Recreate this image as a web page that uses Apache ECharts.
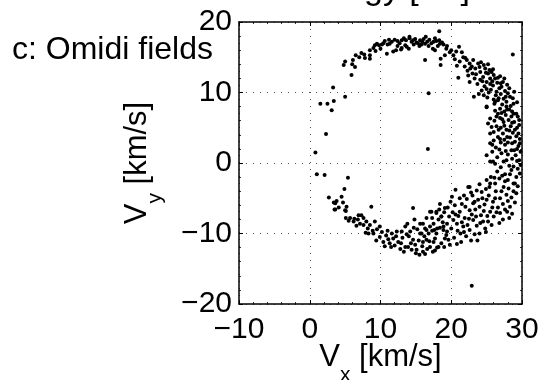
<!DOCTYPE html>
<html>
<head>
<meta charset="utf-8">
<script src="https://cdn.jsdelivr.net/npm/echarts@6/dist/echarts.min.js"></script>
<style>html,body{margin:0;padding:0;background:#fff}#c{width:543px;height:380px}</style>
</head>
<body>
<div id="c"></div>
<script>
// axis ranges and tick step
const xRange = [-10, 30];
const yRange = [-20, 20];
const tickStep = 10;

// sparse / isolated points
const scatteredPts = [[1.5,8.4],[2.5,8.4],[3.4,8.8],[3.1,7.5],[3.3,10.7],[5.0,9.4],[2.3,4.1],[0.8,1.5],[1.0,-1.6],[2.1,-1.7],[5.4,-2.1],[4.9,-3.7],[16.7,2.0],[16.8,9.9],[18.3,18.7],[28.7,15.4],[22.9,-17.4],[14.6,-6.4],[8.7,-6.2],[21.0,12.1]];

// upper arc
const topArc = [[4.8,13.9],[5.0,14.4],[5.9,12.5],[6.1,14.6],[6.4,13.6],[6.5,15.3],[7.0,15.0],[7.7,15.4],[7.8,14.9],[8.5,15.3],[8.5,16.0],[8.5,14.8],[9.0,16.3],[9.2,16.7],[9.5,16.9],[9.8,16.7],[10.2,16.8],[10.6,17.3],[11.0,16.8],[10.9,15.5],[11.3,16.9],[12.0,17.5],[12.2,16.0],[12.4,17.3],[13.0,17.4],[13.0,16.3],[13.6,17.4],[13.7,16.5],[14.1,17.7],[13.5,16.7],[14.1,17.9],[14.6,17.4],[15.1,17.1],[15.6,17.4],[16.3,16.9],[16.3,14.6],[16.9,17.5],[17.5,17.2],[17.7,16.0],[18.4,16.9],[18.9,16.8],[18.5,14.8],[18.5,13.9],[19.1,15.3],[19.8,15.7],[20.3,15.3],[20.5,14.7],[21.1,16.5],[21.5,15.7],[21.7,15.0],
[10.4,17.0],[11.6,17.2],[12.7,17.0],[14.4,17.2],[14.9,17.6],[15.3,17.0],[15.9,17.2],[16.1,17.6],[16.6,17.2],[17.2,17.0],[17.9,17.3],[18.1,16.6],[12.9,16.1],[11.8,15.8],[14.0,16.2],[15.5,16.6],[19.3,16.2],[20.0,16.0],[9.3,15.9],[7.3,15.6],[6.0,14.0],[10.0,16.2],[16.8,16.6],[17.4,16.2],[18.7,17.1],
[11.2,17.5],[13.3,17.7],[14.7,16.8],[15.8,16.8],[16.4,17.9],[17.7,17.7],[18.3,17.4],[19.4,16.6],[20.7,15.8],[12.4,16.6]];

// upper right shoulder
const rightUpper = [[22.2,14.6],[22.6,14.1],[23.1,14.6],[22.4,12.4],[22.6,11.5],[23.4,13.4],[23.8,14.1],[24.1,12.9],[24.3,10.3],[23.2,9.4],[24.5,12.2],[24.8,13.4],[25.0,11.5],[25.2,12.7],[25.7,12.9],[25.9,11.0],[26.2,12.0],[26.4,10.1],[26.6,8.9],[27.1,10.8],[27.4,9.1],[27.8,8.7],[28.3,9.4],[28.8,8.4],[25.0,7.9],[26.9,7.7],
[22.9,13.7],[23.5,12.6],[24.0,13.6],[24.4,11.6],[24.9,12.8],[25.4,13.2],[25.5,12.0],[25.8,11.6],[26.0,12.5],[26.5,11.4],[26.8,10.6],[26.3,9.6],[27.0,9.8],[27.3,11.5],[27.6,10.2],[28.0,9.9],[28.4,8.1],[27.9,7.6],[28.6,7.3],[25.6,10.4],[25.1,9.3],[24.7,10.9],[23.7,11.2],[26.1,8.4],[27.2,8.3],[21.9,13.7],[22.3,13.1],[23.3,12.0],[24.2,14.3],[21.2,14.4],[20.8,13.8],[25.3,10.0],[26.7,9.2],[28.9,10.1],
[24.6,13.9],[25.9,13.3],[26.6,12.1],[27.0,11.3],[27.7,9.4],[28.2,10.6],[25.5,11.2],[24.1,11.8],[23.0,12.7],[22.0,14.9],[26.9,12.3],[25.2,14.0],[27.9,11.1],[28.7,9.2],[26.0,9.0],[24.6,9.6],[27.5,12.0],[25.0,10.5],[23.9,9.8],[22.7,13.4]];

// right side
const rightSide = [[25.0,8.0],[25.5,6.3],[25.2,5.6],[25.5,4.2],[25.5,2.8],[25.0,1.1],[25.5,0.2],[25.9,0.2],[26.2,8.7],[26.6,7.0],[26.4,5.2],[26.6,3.7],[27.0,2.9],[27.1,1.4],[27.4,0.2],[27.8,8.0],[28.1,6.1],[27.8,4.7],[28.3,3.6],[28.5,1.8],[28.8,-0.5],[29.2,7.0],[29.5,4.2],[29.5,2.4],[29.2,-2.0],[25.0,-2.4],[25.5,-2.9],[22.6,-3.4],[27.6,-1.6],
[26.9,6.4],[27.4,5.8],[27.7,6.8],[28.4,5.2],[28.9,5.8],[29.3,5.0],[29.7,3.4],[29.0,3.0],[28.7,4.3],[27.3,4.2],[27.0,5.0],[26.1,6.0],[26.0,4.4],[26.3,2.2],[26.8,1.9],[27.6,2.6],[28.0,1.2],[28.6,0.6],[29.1,1.1],[29.6,0.4],[29.8,1.6],[29.4,-0.8],[28.2,-0.4],[27.0,-0.6],[26.5,-1.2],[28.3,-1.6],[29.0,-2.9],[29.6,6.1],[29.3,8.6],[28.0,2.9],[26.7,4.7],[27.9,3.7],[29.2,3.8],[28.5,6.6],[26.2,-0.1],[25.8,1.6],[29.7,-1.5],[27.5,7.3],
[26.4,6.6],[27.1,7.1],[28.2,7.6],[28.8,7.0],[29.4,6.6],[27.5,5.3],[28.2,4.6],[29.0,4.7],[29.6,5.4],[26.9,3.4],[27.5,3.3],[28.6,2.8],[29.3,2.0],[29.7,2.8],[26.5,0.8],[27.8,0.4],[28.5,-1.0],[29.3,0.3],[27.2,-1.8],[28.0,-2.4],[26.1,-2.1],[29.8,-0.3],[28.9,1.8],[27.7,1.7],[26.0,3.2],[25.7,5.1],[26.2,7.4],[25.8,2.6],[27.2,6.2],[28.6,5.7]];

// lower right band
const lowerBand = [[16.0,-8.6],[15.6,-10.0],[17.0,-6.9],[17.9,-6.9],[18.6,-7.6],[17.5,-8.6],[17.0,-9.0],[16.5,-10.9],[17.7,-10.7],[18.9,-9.5],[19.4,-8.6],[20.3,-8.1],[20.5,-6.0],[21.2,-6.9],[21.7,-9.0],[22.6,-9.5],[23.1,-8.1],[22.6,-6.7],[23.1,-5.7],[23.8,-5.2],[24.3,-4.1],[25.0,-5.2],[25.5,-6.9],[24.5,-8.3],[25.2,-8.3],[25.7,-8.8],[26.9,-7.1],[28.3,-6.2],[27.8,-4.5],[27.4,-3.4],[28.8,-2.9],[29.2,-4.3],[26.2,-2.9],[22.4,-3.4],[20.6,-3.8],[16.0,-12.6],
[18.2,-8.0],[19.0,-7.0],[19.7,-7.6],[20.0,-9.3],[20.8,-8.6],[21.0,-7.5],[21.5,-5.8],[21.9,-7.8],[22.2,-5.1],[22.9,-7.3],[23.4,-6.6],[23.6,-8.9],[24.0,-6.2],[24.2,-7.4],[24.7,-5.9],[24.9,-3.7],[25.3,-4.6],[25.9,-5.5],[26.3,-4.0],[26.6,-6.3],[26.9,-5.0],[27.3,-5.8],[27.6,-2.6],[28.1,-3.6],[28.5,-4.9],[29.0,-5.6],[27.9,-6.9],[26.0,-7.6],[24.8,-9.3],[23.3,-10.1],[22.1,-10.4],[21.3,-10.0],[20.4,-10.6],[19.6,-10.9],[18.6,-11.4],[19.9,-5.5],[21.8,-4.6],[23.6,-3.9],[25.6,-2.0],[26.8,-2.2],[23.0,-4.6],[20.1,-4.8],[18.4,-5.8],[21.4,-11.2],[22.8,-11.0],[24.0,-10.0],[27.3,-8.0],[28.6,-7.2],
[16.5,-9.5],[17.3,-7.8],[18.0,-9.3],[18.8,-8.4],[19.3,-10.2],[19.5,-6.3],[20.6,-7.3],[20.9,-9.6],[21.5,-8.4],[22.3,-8.8],[22.0,-6.2],[22.8,-4.2],[23.5,-7.6],[24.1,-8.5],[24.4,-5.0],[24.6,-6.8],[25.1,-7.5],[25.8,-6.3],[26.2,-5.0],[26.4,-7.0],[27.1,-4.0],[27.6,-6.6],[28.0,-5.4],[28.8,-4.0],[29.4,-3.3],[25.4,-3.4],[24.0,-3.0],[23.3,-5.5],[21.2,-5.0],[20.2,-7.0],[22.5,-7.9],[24.9,-9.8],[26.8,-8.5],[28.2,-7.8],[19.0,-11.9],[20.8,-11.5],[23.7,-11.0],[18.3,-6.6],[17.6,-9.5],[21.8,-9.8]];

// lower arc
const bottomArc = [[3.6,-5.7],[4.7,-5.6],[3.6,-6.6],[5.0,-6.7],[5.1,-7.8],[5.7,-7.8],[6.2,-8.3],[6.3,-7.9],[6.9,-7.4],[7.3,-7.4],[7.6,-7.8],[7.1,-8.6],[7.6,-8.8],[8.0,-8.3],[8.5,-8.8],[8.3,-10.0],[9.0,-10.0],[9.2,-8.3],[9.9,-9.0],[9.9,-10.5],[10.4,-11.2],[11.3,-11.4],[11.6,-10.0],[11.8,-10.7],[12.3,-9.7],[12.5,-11.2],[13.0,-9.7],[13.5,-9.0],[13.5,-11.9],[13.9,-11.9],[14.2,-9.7],[14.6,-10.9],[14.9,-11.6],[15.1,-12.3],[15.5,-13.0],[15.6,-8.6],[15.8,-10.0],[16.0,-11.2],[16.3,-9.3],[16.5,-7.8],[16.8,-10.0],[17.0,-11.9],[17.2,-6.9],[17.5,-11.2],[17.9,-7.1],[17.9,-10.0],[18.2,-11.9],[18.6,-7.6],[18.9,-9.0],[19.1,-6.4],[19.1,-10.7],[19.4,-9.7],
[2.7,-4.9],[3.4,-5.6],[3.8,-5.4],[4.5,-4.8],[4.1,-6.3],[3.5,-6.6],[5.2,-6.2],[5.1,-6.8],[5.5,-8.2],
[10.8,-10.3],[12.0,-11.7],[13.1,-10.6],[14.0,-10.4],[14.4,-12.3],[15.2,-9.4],[16.6,-12.2],[12.8,-12.2],[11.0,-9.6],[10.2,-9.8],[13.8,-8.6],[15.9,-11.8],[17.3,-9.6],[18.4,-9.2],[19.8,-11.6],[14.8,-8.0],[17.7,-12.4],[9.5,-9.4],[6.6,-8.9],[8.2,-9.3],
[9.4,-11.0],[10.6,-11.8],[11.5,-11.9],[12.2,-10.4],[12.9,-11.4],[13.3,-12.6],[13.7,-10.1],[14.3,-11.4],[14.7,-9.2],[15.4,-11.0],[15.0,-12.8],[16.2,-10.4],[16.9,-11.1],[16.3,-12.9],[17.4,-12.6],[18.0,-12.0],[11.1,-10.8],[8.9,-9.6],[7.9,-9.9],[6.8,-8.0]];

const FONT = 'Liberation Sans, Arial, Helvetica, sans-serif';
const fmt = v => String(v).replace('-', '\u2212');

const chart = echarts.init(document.getElementById('c'), null, {renderer: 'canvas'});

const nameRich = {
  v: {fontSize: 31, lineHeight: 31, fontFamily: FONT, color: '#000'},
  s: {fontSize: 21, lineHeight: 21, fontFamily: FONT, color: '#000', padding: [36, 0, 0, 0]}
};

const boxAxisCommon = {
  axisLine: {show: true, onZero: false, lineStyle: {color: '#000', width: 1.5}},
  axisTick: {show: true, inside: true, length: 4, lineStyle: {color: '#000', width: 1}},
  minorTick: {show: true, splitNumber: 5, length: 2, lineStyle: {color: '#000', width: 0.8}},
};

chart.setOption({
  animation: false,
  backgroundColor: '#fff',
  grid: {left: 239, right: 21, top: 22, bottom: 76, containLabel: false, outerBoundsMode: 'none'},
  graphic: [
    {type: 'text', x: 381, y: -10, style: {text: 'Energy [eV]', fontSize: 34, fontFamily: FONT, fill: '#000', align: 'center', verticalAlign: 'middle'}},
    {type: 'text', x: 12, y: 50, style: {text: 'c: Omidi fields', fontSize: 32, fontFamily: FONT, fill: '#000', align: 'left', verticalAlign: 'middle'}}
  ],
  xAxis: [
    Object.assign({
      type: 'value', min: xRange[0], max: xRange[1], interval: tickStep, position: 'bottom',
      name: '{v|V}{s|x}{v| [km/s]}', nameLocation: 'middle', nameGap: 38, nameMoveOverlap: false,
      nameTextStyle: {rich: nameRich},
      axisLabel: {fontSize: 30, lineHeight: 30, fontFamily: FONT, color: '#000', margin: 11, formatter: fmt},
      splitLine: {show: true, lineStyle: {color: '#555', width: 1, type: [1, 6]}}
    }, boxAxisCommon),
    Object.assign({
      type: 'value', min: xRange[0], max: xRange[1], interval: tickStep, position: 'top',
      axisLabel: {show: false}, splitLine: {show: false}
    }, boxAxisCommon)
  ],
  yAxis: [
    Object.assign({
      type: 'value', min: yRange[0], max: yRange[1], interval: tickStep, position: 'left',
      name: '{v|V}{s|y}{v| [km/s]}', nameLocation: 'middle', nameGap: 86, nameMoveOverlap: false,
      nameTextStyle: {rich: nameRich},
      axisLabel: {fontSize: 30, fontFamily: FONT, color: '#000', margin: 7, formatter: fmt},
      splitLine: {show: true, lineStyle: {color: '#555', width: 1, type: [1, 6]}}
    }, boxAxisCommon),
    Object.assign({
      type: 'value', min: yRange[0], max: yRange[1], interval: tickStep, position: 'right',
      axisLabel: {show: false}, splitLine: {show: false}
    }, boxAxisCommon)
  ],
  series: [{
    type: 'scatter',
    xAxisIndex: 0, yAxisIndex: 0,
    symbol: 'circle', symbolSize: 4,
    itemStyle: {color: '#000', opacity: 1},
    data: [].concat(scatteredPts, topArc, rightUpper, rightSide, lowerBand, bottomArc)
  }]
});
</script>
</body>
</html>
